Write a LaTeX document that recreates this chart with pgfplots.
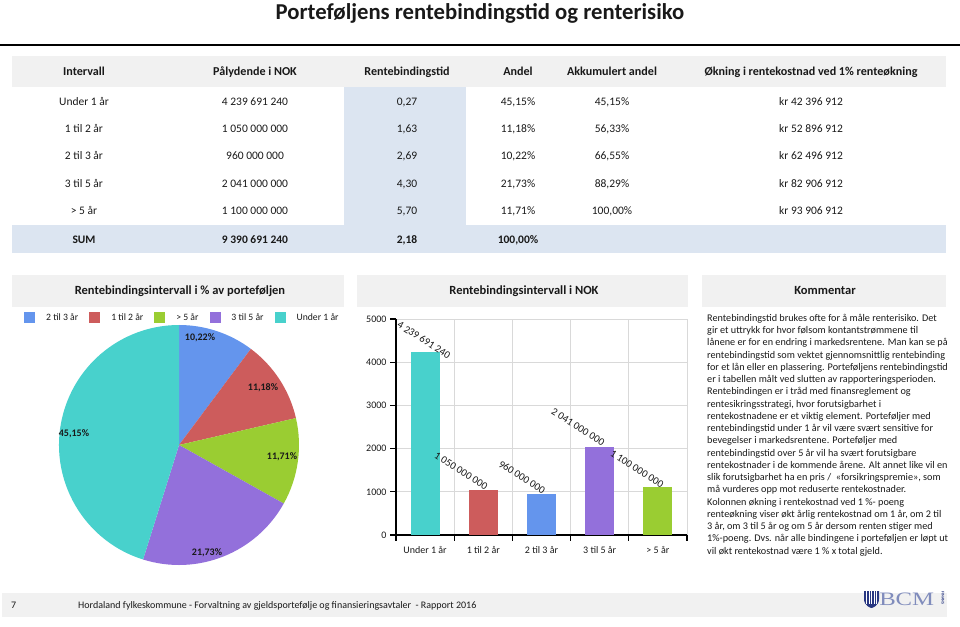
\documentclass[border=0pt]{standalone}
\usepackage{fontspec}
\setmainfont{Carlito}
\setsansfont{Carlito}
\newfontfamily\logofont{Liberation Serif}
\usepackage{pgfplots}
\pgfplotsset{compat=1.18}

\definecolor{cBlue}{RGB}{100,149,237}
\definecolor{cRed}{RGB}{205,92,92}
\definecolor{cGreen}{RGB}{154,205,50}
\definecolor{cPurple}{RGB}{147,112,219}
\definecolor{cCyan}{RGB}{72,209,204}
\definecolor{bandGray}{RGB}{241,241,241}
\definecolor{colBlue}{RGB}{220,229,241}
\definecolor{cGrid}{RGB}{217,217,217}
\definecolor{txt}{RGB}{25,25,25}
\definecolor{logoBlue}{RGB}{128,140,188}
\definecolor{logoDark}{RGB}{40,55,130}

% one table row: #1 = y centre (px from top), #2 = font, #3..#8 = cells
\newcommand{\trow}[8]{%
  \node[anchor=base,font=#2] at (84,626-#1-3.7) {#3};
  \node[anchor=base,font=#2] at (255,626-#1-3.7) {#4};
  \node[anchor=base,font=#2] at (407,626-#1-3.7) {#5};
  \node[anchor=base,font=#2] at (518,626-#1-3.7) {#6};
  \node[anchor=base,font=#2] at (612,626-#1-3.7) {#7};
  \node[anchor=base,font=#2] at (811,626-#1-3.7) {#8};
}
\newcommand{\tf}{\fontsize{11.5}{13}\selectfont}
\newcommand{\tb}{\fontsize{11.5}{13}\selectfont\bfseries}
\newcommand{\thd}{\fontsize{12.1}{14}\selectfont\bfseries}

\begin{document}
\begin{tikzpicture}[x=1pt,y=1pt,every node/.style={text=txt}]
\useasboundingbox (0,0) rectangle (960,626);

% title and rule
\node[anchor=base,font=\fontsize{22.7}{26}\selectfont\bfseries] at (480,626-19.5)
  {Porteføljens rentebindingstid og renterisiko};
\draw[line width=1.6pt,black] (0,626-45) -- (960,626-45);

% table backgrounds
\fill[bandGray] (12,626-56) rectangle (946,626-87);
\fill[colBlue] (344,626-87) rectangle (466,626-225);
\fill[colBlue] (12,626-225) rectangle (946,626-253);

\trow{72}{\thd}{Intervall}{Pålydende i NOK}{Rentebindingstid}{Andel}{Akkumulert andel}{Økning i rentekostnad ved 1\% renteøkning}
\trow{102}{\tf}{Under 1 år}{4 239 691 240}{0,27}{45,15\%}{45,15\%}{kr 42 396 912}
\trow{129}{\tf}{1 til 2 år}{1 050 000 000}{1,63}{11,18\%}{56,33\%}{kr 52 896 912}
\trow{156}{\tf}{2 til 3 år}{960 000 000}{2,69}{10,22\%}{66,55\%}{kr 62 496 912}
\trow{184}{\tf}{3 til 5 år}{2 041 000 000}{4,30}{21,73\%}{88,29\%}{kr 82 906 912}
\trow{211}{\tf}{> 5 år}{1 100 000 000}{5,70}{11,71\%}{100,00\%}{kr 93 906 912}
\trow{240}{\tb}{SUM}{9 390 691 240}{2,18}{100,00\%}{}{}

% panel headers
\fill[bandGray] (12,626-275) rectangle (344,626-307);
\fill[bandGray] (357,626-275) rectangle (688,626-307);
\fill[bandGray] (702,626-275) rectangle (946,626-307);
\node[anchor=base,font=\fontsize{12.5}{14}\selectfont\bfseries] at (180,626-295) {Rentebindingsintervall i \% av porteføljen};
\node[anchor=base,font=\fontsize{12.5}{14}\selectfont\bfseries] at (524,626-295) {Rentebindingsintervall i NOK};
\node[anchor=base,font=\fontsize{12.5}{14}\selectfont\bfseries] at (825,626-295) {Kommentar};

% pie chart (shares in %)
\begin{axis}[at={(179pt,181pt)}, anchor=center, x=1pt, y=1pt,
  xmin=-125, xmax=125, ymin=-125, ymax=125, hide axis, clip=false,
  legend image code/.code={\fill[#1] (0pt,-5.5pt) rectangle (11pt,5.5pt);},
  legend columns=5,
  legend style={at={(axis description cs:-0.132,1.010)}, anchor=west, draw=none, fill=none,
    font=\fontsize{9.7}{11}\selectfont,
    /tikz/every odd column/.append style={column sep=9pt},
    /tikz/every even column/.append style={column sep=9pt}},
]
\addlegendimage{fill=cBlue,draw=none}\addlegendentry{2 til 3 år}
\addlegendimage{fill=cRed,draw=none}\addlegendentry{1 til 2 år}
\addlegendimage{fill=cGreen,draw=none}\addlegendentry{> 5 år}
\addlegendimage{fill=cPurple,draw=none}\addlegendentry{3 til 5 år}
\addlegendimage{fill=cCyan,draw=none}\addlegendentry{Under 1 år}
% 10.22, 11.18, 11.71, 21.73, 45.15 clockwise from the top
\fill[cBlue] (axis cs:0,0) -- ++(90:120pt) arc[start angle=90, end angle={90-3.6*10.22}, radius=120pt] -- cycle;
\fill[cRed] (axis cs:0,0) -- ++({90-3.6*10.22}:120pt) arc[start angle={90-3.6*10.22}, end angle={90-3.6*(10.22+11.18)}, radius=120pt] -- cycle;
\fill[cGreen] (axis cs:0,0) -- ++({90-3.6*21.40}:120pt) arc[start angle={90-3.6*21.40}, end angle={90-3.6*(21.40+11.71)}, radius=120pt] -- cycle;
\fill[cPurple] (axis cs:0,0) -- ++({90-3.6*33.11}:120pt) arc[start angle={90-3.6*33.11}, end angle={90-3.6*(33.11+21.73)}, radius=120pt] -- cycle;
\fill[cCyan] (axis cs:0,0) -- ++({90-3.6*54.84}:120pt) arc[start angle={90-3.6*54.84}, end angle={-270}, radius=120pt] -- cycle;
\begin{scope}[every node/.style={font=\fontsize{10}{12}\selectfont\bfseries, text=txt}]
\node at (axis cs:21,107) {10,22\%};
\node at (axis cs:84,57) {11,18\%};
\node at (axis cs:103,-12) {11,71\%};
\node at (axis cs:28,-108) {21,73\%};
\node at (axis cs:-105,11) {45,15\%};
\end{scope}
\end{axis}

% bar chart (million NOK); axis box 396..687 x 319..535 px
\begin{axis}[at={(396pt,91pt)}, anchor=south west, scale only axis,
  width=291pt, height=216pt,
  xmin=0.5, xmax=5.5, ymin=0, ymax=5000,
  ytick={0,1000,...,5000}, xtick={0.5,1.5,...,5.5}, xticklabels={},
  extra x ticks={1,2,3,4,5},
  extra x tick labels={Under 1 år,1 til 2 år,2 til 3 år,3 til 5 år,> 5 år},
  extra x tick style={major tick length=0pt, grid=none,
    xticklabel style={yshift=-8pt}},
  grid=major, major grid style={cGrid, line width=0.8pt},
  axis x line*=bottom, axis y line*=left,
  axis line style={-, black, line width=1.5pt},
  tick align=outside, major tick length=6pt, tick style={black, line width=1.2pt},
  ticklabel style={font=\fontsize{10}{12}\selectfont, text=txt},
  /pgf/number format/assume math mode=true,
  scaled y ticks=false, yticklabel style={/pgf/number format/1000 sep={}},
  ybar, bar width=29pt, bar shift=0pt, clip=false,
]
\addplot[fill=cCyan, draw=none] coordinates {(1,4239.69)};
\addplot[fill=cRed, draw=none] coordinates {(2,1050)};
\addplot[fill=cBlue, draw=none] coordinates {(3,960)};
\addplot[fill=cPurple, draw=none] coordinates {(4,2041)};
\addplot[fill=cGreen, draw=none] coordinates {(5,1100)};
\begin{scope}[every node/.style={rotate=-32, font=\fontsize{10.5}{12}\selectfont, text=txt}]
\node at (axis cs:0.981,4514) {4 239 691 240};
\node at (axis cs:1.617,1481) {1 050 000 000};
\node at (axis cs:2.665,1343) {960 000 000};
\node at (axis cs:3.627,2500) {2 041 000 000};
\node at (axis cs:4.641,1528) {1 100 000 000};
\end{scope}
\end{axis}

% comment text
\foreach \t [count=\i] in {
{Rentebindingstid brukes ofte for å måle renterisiko. Det},
{gir et uttrykk for hvor følsom kontantstrømmene til},
{lånene er for en endring i markedsrentene. Man kan se på},
{rentebindingstid som vektet gjennomsnittlig rentebinding},
{for et lån eller en plassering. Porteføljens rentebindingstid},
{er i tabellen målt ved slutten av rapporteringsperioden.},
{Rentebindingen er i tråd med finansreglement og},
{rentesikringsstrategi, hvor forutsigbarhet i},
{rentekostnadene er et viktig element. Porteføljer med},
{rentebindingstid under 1 år vil være svært sensitive for},
{bevegelser i markedsrentene. Porteføljer med},
{rentebindingstid over 5 år vil ha svært forutsigbare},
{rentekostnader i de kommende årene. Alt annet like vil en},
{slik forutsigbarhet ha en pris /\ \ «forsikringspremie», som},
{må vurderes opp mot reduserte rentekostnader.},
{Kolonnen økning i rentekostnad ved 1 \%- poeng},
{renteøkning viser økt årlig rentekostnad om 1 år, om 2 til},
{3 år, om 3 til 5 år og om 5 år dersom renten stiger med},
{1\%-poeng. Dvs. når alle bindingene i porteføljen er løpt ut},
{vil økt rentekostnad være 1 \% x total gjeld.}}
{\node[anchor=base west, inner sep=0pt, font=\fontsize{10.2}{12}\selectfont] at (707,{626-318-12.26*(\i-1)-3.3}) {\t};}

% footer
\fill[bandGray] (2,626-593) rectangle (947,626-617);
\node[anchor=base west, inner sep=0pt, font=\fontsize{10}{12}\selectfont] at (11,626-608.5) {7};
\node[anchor=base west, inner sep=0pt, font=\fontsize{10}{12}\selectfont] at (78,626-608.5)
  {Hordaland fylkeskommune - Forvaltning av gjeldsportefølje og finansieringsavtaler\ \ - Rapport 2016};
\fill[logoDark] (864,626-591) -- (879,626-591) -- (879,626-599) .. controls (879,626-606) and (872,626-608) .. (871.5,626-608) .. controls (871,626-608) and (864,626-606) .. (864,626-599) -- cycle;
\foreach \xx in {866.5,869,871.5,874,876.5} {\draw[white, line width=0.6pt] (\xx,626-591) -- (\xx,626-604);}
\node[anchor=base west, inner sep=0pt, xscale=1.3, font=\logofont\fontsize{19}{20}\selectfont, text=logoBlue] at (879,626-605.5) {BCM};
\node[rotate=-90, inner sep=0pt, font=\fontsize{4}{5}\selectfont\bfseries, text=logoDark] at (943,626-598) {FINANS};
\end{tikzpicture}
\end{document}
